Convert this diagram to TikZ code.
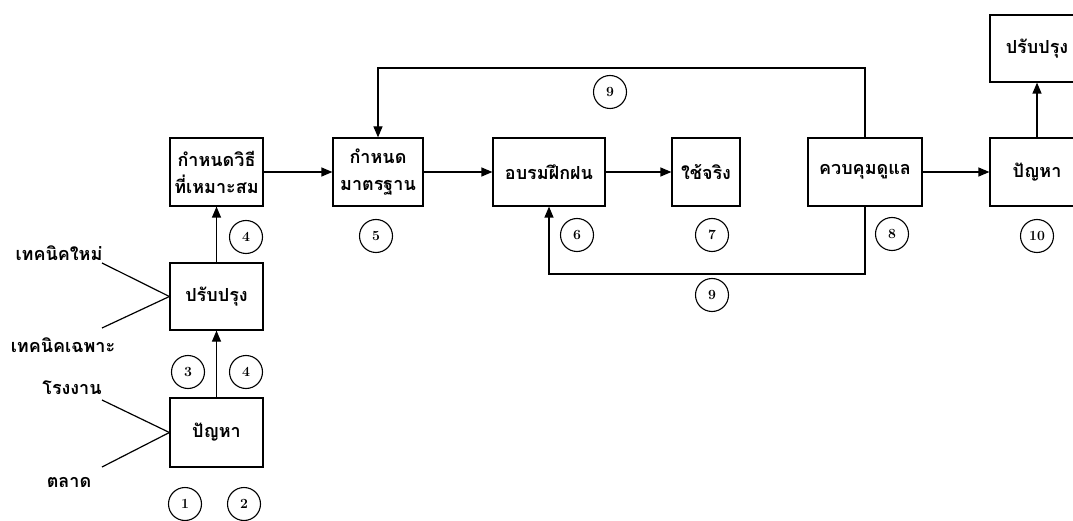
\documentclass[tikz,border=0pt]{standalone}
\usepackage{fontspec}
\newfontfamily\thaifont[Script=Thai]{Loma}
\usetikzlibrary{arrows.meta}
\tikzset{
  box/.style={draw, line width=1.2pt, minimum width=#1, minimum height=68pt, inner sep=0pt,
    font=\thaifont\fontsize{18}{27}\selectfont\bfseries, align=center},
  num/.style={draw, circle, minimum size=33pt, inner sep=0pt, line width=1.1pt,
    font=\fontsize{14}{14}\selectfont\bfseries},
  lbl/.style={inner sep=0pt, font=\thaifont\fontsize{18}{20}\selectfont\bfseries},
  arr/.style={-{Triangle[length=11pt,width=9pt]}, line width=1.2pt},
  ln/.style={line width=1.2pt}
}
\begin{document}
\begin{tikzpicture}[x=1pt,y=-1pt]
\useasboundingbox (0,0) rectangle (1073,521);
\clip (0,0) rectangle (1073,521);
% boxes
\node[box=93pt] (b4) at (216.5,172) {กำหนดวิธี\\ที่เหมาะสม};
\node[box=90pt] (b5) at (378,172) {กำหนด\\มาตรฐาน};
\node[box=112pt] (b6) at (549,172) {อบรมฝึกฝน};
\node[box=68pt] (b7) at (706,172) {ใช้จริง};
\node[box=114pt] (b8) at (865,172) {ควบคุมดูแล};
\node[box=94pt] (b10) at (1037,172) {ปัญหา};
\node[box=94pt, minimum height=67pt] (b11) at (1037,48.5) {ปรับปรุง};
\node[box=93pt, minimum height=67pt] (b2) at (216.5,296.5) {ปรับปรุง};
\node[box=93pt, minimum height=69pt] (b1) at (216.5,432.5) {ปัญหา};
% side labels
\node[lbl] (t1) at (59,253) {เทคนิคใหม่};
\node[lbl] (t2) at (63,345) {เทคนิคเฉพาะ};
\node[lbl] (t3) at (72,388) {โรงงาน};
\node[lbl] (t4) at (69,482) {ตลาด};
\coordinate (l1) at (102,263);
\coordinate (l2) at (102,328);
\coordinate (l3) at (102,400);
\coordinate (l4) at (102,467);
\draw[ln] (l1) -- (b2.west);
\draw[ln] (l2) -- (b2.west);
\draw[ln] (l3) -- (b1.west);
\draw[ln] (l4) -- (b1.west);
% numbers
\node[num] (n4a) at (246,237) {4};
\node[num] (n3) at (188,372) {3};
\node[num] (n4b) at (246,372) {4};
\node[num] (n1) at (185,504) {1};
\node[num] (n2) at (244,504) {2};
\node[num] (n5) at (376,236) {5};
\node[num] (n6) at (577,235) {6};
\node[num] (n7) at (712,235) {7};
\node[num] (n8) at (892,234) {8};
\node[num] (n10) at (1037,236) {10};
\node[num] (n9a) at (610,92) {9};
\node[num] (n9b) at (712,295) {9};
% connectors
\draw[arr] (b1) -- (b2);
\draw[arr] (b2) -- (b4);
\draw[arr] (b4) -- (b5);
\draw[arr] (b5) -- (b6);
\draw[arr] (b6) -- (b7);
\draw[arr] (b8) -- (b10);
\draw[arr] (b10) -- (b11);
\coordinate (ytop) at (0,68);
\coordinate (ybot) at (0,274);
\draw[arr] (b8.north) |- (ytop -| b5.north) -- (b5.north);
\draw[arr] (b8.south) |- (ybot -| b6.south) -- (b6.south);
\end{tikzpicture}
\end{document}
